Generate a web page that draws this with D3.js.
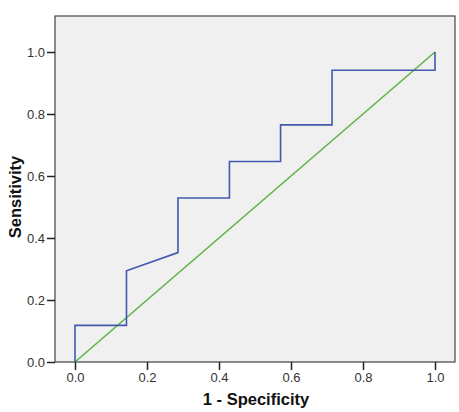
<!DOCTYPE html>
<html>
<head>
<meta charset="utf-8">
<script src="https://cdn.jsdelivr.net/npm/d3@7"></script>
<style>
  body { margin: 0; background: #fff; }
  .tick text { font-family: "Liberation Sans", Arial, sans-serif; font-size: 13px; fill: #333; }
  .axis-title { font-family: "Liberation Sans", Arial, sans-serif; font-size: 16.5px; font-weight: bold; fill: #111; }
</style>
</head>
<body>
<div class="chart"></div>
<script>
// ROC curve points (1 - specificity, sensitivity)
let rocX = [0, 0, 0.143, 0.143, 0.286, 0.286, 0.429, 0.429, 0.571, 0.571, 0.714, 0.714, 1.0, 1.0];
let rocY = [0, 0.118, 0.118, 0.294, 0.353, 0.529, 0.529, 0.647, 0.647, 0.765, 0.765, 0.941, 0.941, 1.0];
// reference diagonal
let refX = [0, 1];
let refY = [0, 1];
let tickValues = [0, 0.2, 0.4, 0.6, 0.8, 1.0];

let svgWidth = 459;
let svgHeight = 412;

let frame = { left: 55, right: 455, top: 16, bottom: 362 };

let svg = d3.select(".chart")
    .append("svg")
    .attr("width", svgWidth)
    .attr("height", svgHeight);

// scales - data 0..1 maps to 75..435 horizontally, 362..52 vertically
let xScale = d3.scaleLinear()
    .domain([0, 1])
    .range([75, 435]);

let yScale = d3.scaleLinear()
    .domain([0, 1])
    .range([362, 52]);

// plot background
svg.append("rect")
    .attr("x", frame.left)
    .attr("y", frame.top)
    .attr("width", frame.right - frame.left)
    .attr("height", frame.bottom - frame.top)
    .attr("fill", "#f0f0f0")
    .attr("stroke", "#444")
    .attr("stroke-width", 1.2);

// axes
let bottomAxis = d3.axisBottom(xScale)
    .tickValues(tickValues)
    .tickFormat(d3.format(".1f"))
    .tickSize(8)
    .tickPadding(3);

let leftAxis = d3.axisLeft(yScale)
    .tickValues(tickValues)
    .tickFormat(d3.format(".1f"))
    .tickSize(8)
    .tickPadding(2);

let xAxis = svg.append("g")
    .attr("transform", `translate(0, ${frame.bottom})`)
    .call(bottomAxis);

let yAxis = svg.append("g")
    .attr("transform", `translate(${frame.left}, 0)`)
    .call(leftAxis);

[xAxis, yAxis].forEach(function (ax) {
    ax.select(".domain").remove();
    ax.selectAll(".tick line").attr("stroke", "#222").attr("stroke-width", 1.5);
});

let line = d3.line()
    .x(d => xScale(d[0]))
    .y(d => yScale(d[1]));

// diagonal reference line
svg.append("path")
    .datum(d3.zip(refX, refY))
    .attr("d", line)
    .attr("fill", "none")
    .attr("stroke", "#5db447")
    .attr("stroke-width", 1.6);

// ROC curve
svg.append("path")
    .datum(d3.zip(rocX, rocY))
    .attr("d", line)
    .attr("fill", "none")
    .attr("stroke", "#4459ad")
    .attr("stroke-width", 1.6);

// axis titles
svg.append("text")
    .attr("class", "axis-title")
    .attr("x", 256)
    .attr("y", 405)
    .attr("text-anchor", "middle")
    .text("1 - Specificity");

svg.append("text")
    .attr("class", "axis-title")
    .attr("transform", "translate(21, 197) rotate(-90)")
    .attr("text-anchor", "middle")
    .text("Sensitivity");
</script>
</body>
</html>
